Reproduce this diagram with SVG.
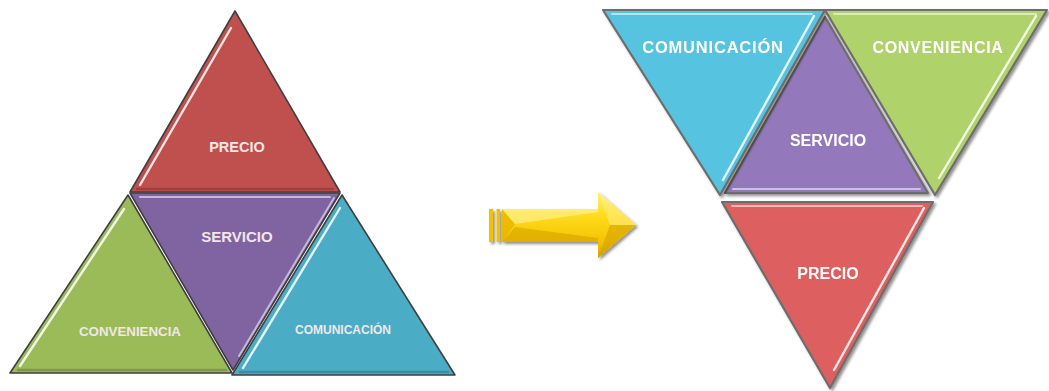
<svg xmlns="http://www.w3.org/2000/svg" width="1049" height="391" viewBox="0 0 1049 391">
  <defs>
    <linearGradient id="arrowFill" x1="0" y1="0" x2="0" y2="1">
      <stop offset="0" stop-color="#fff27a"/>
      <stop offset="0.35" stop-color="#ffdc1e"/>
      <stop offset="0.75" stop-color="#f5c400"/>
      <stop offset="1" stop-color="#d9a300"/>
    </linearGradient>
    <linearGradient id="headFill" x1="0" y1="0" x2="1" y2="1">
      <stop offset="0" stop-color="#ffe95a"/>
      <stop offset="0.6" stop-color="#ffd21a"/>
      <stop offset="1" stop-color="#e0aa00"/>
    </linearGradient>
    <filter id="soft" x="-10%" y="-10%" width="120%" height="120%">
      <feGaussianBlur stdDeviation="0.6"/>
    </filter>
    <filter id="drop" x="-10%" y="-10%" width="125%" height="125%">
      <feGaussianBlur in="SourceAlpha" stdDeviation="1.5"/>
      <feOffset dx="1.5" dy="1.5" result="b"/>
      <feComponentTransfer><feFuncA type="linear" slope="0.45"/></feComponentTransfer>
      <feMerge><feMergeNode/><feMergeNode in="SourceGraphic"/></feMerge>
    </filter>
  </defs>
  <style>
    .tri { stroke: #3f3f3f; stroke-width: 1.6; stroke-linejoin: round; }
    .triR { stroke: #6d6d6d; stroke-width: 2.2; stroke-linejoin: round; }
    .hi { fill: none; stroke: #ffffff; stroke-width: 2.4; stroke-linecap: round; opacity: 0.85; }
    .hiSoft { fill: none; stroke: #ffffff; stroke-width: 2; stroke-linecap: round; opacity: 0.55; }
    .sh { fill: none; stroke: #000000; stroke-width: 2.5; stroke-linecap: round; opacity: 0.18; }
    .lblL { font-family: "Liberation Sans", Arial, sans-serif; font-weight: bold; fill: #f3e6e6; text-anchor: middle; }
    .lblR { font-family: "Liberation Sans", Arial, sans-serif; font-weight: bold; fill: #ffffff; text-anchor: middle; }
  </style>

  <!-- Left pyramid -->
  <g id="left-precio">
    <polygon class="tri" points="235,11 130,192 340,192" fill="#c0504d"/>
    <line class="hi" x1="140" y1="185" x2="231" y2="28"/>
    <line class="sh" x1="137" y1="189" x2="333" y2="189"/>
    <text class="lblL" x="237" y="152" font-size="14.5">PRECIO</text>
  </g>

  <g id="left-servicio">
    <polygon class="tri" points="130,193 340,193 233,370" fill="#8064a2"/>
    <line class="hiSoft" x1="334" y1="198" x2="239" y2="356"/>
    <line class="hiSoft" x1="140" y1="197" x2="330" y2="197"/>
    <text class="lblL" x="237" y="242" font-size="15">SERVICIO</text>
  </g>

  <g id="left-conveniencia">
    <polygon class="tri" points="128,195 10,373 232,373" fill="#9bbb59"/>
    <line class="hi" x1="20" y1="366" x2="124" y2="209"/>
    <line class="sh" x1="18" y1="370" x2="226" y2="370"/>
    <text class="lblL" x="130" y="336" font-size="13.3">CONVENIENCIA</text>
  </g>

  <g id="left-comunicacion">
    <polygon class="tri" points="342,195 232,375 455,375" fill="#4bacc6"/>
    <line class="hi" x1="243" y1="368" x2="340" y2="208"/>
    <line class="sh" x1="240" y1="372" x2="448" y2="372"/>
    <text class="lblL" x="343" y="334" font-size="12">COMUNICACIÓN</text>
  </g>

  <!-- Connector: transformation arrow -->
  <g id="connectors">
    <g id="arrow" filter="url(#drop)">
      <rect x="489" y="209" width="4" height="33" fill="#f2c200"/>
      <rect x="496.5" y="209" width="3.5" height="33" fill="#f2c200"/>
      <polygon points="502,209 598,209 598,192 636,225 598,258 598,242 502,242" fill="url(#arrowFill)"/>
      <!-- bevel facets -->
      <polygon points="502,209 515,224 502,242" fill="#e8b400" opacity="0.8"/>
      <polygon points="502,209 598,209 598,212 515,224" fill="#fff6a8" opacity="0.55"/>
      <polygon points="502,242 515,227 598,238 598,242" fill="#c99600" opacity="0.45"/>
      <polygon points="598,192 636,225 610,225" fill="#fff08a" opacity="0.5"/>
      <polygon points="598,258 636,225 610,225" fill="#d29f00" opacity="0.55"/>
    </g>
  </g>

  <!-- Right inverted pyramid -->
  <g id="right-servicio" filter="url(#drop)">
    <polygon class="triR" points="825,17 725,193 928,193" fill="#9378bb"/>
    <line class="hiSoft" x1="733" y1="189" x2="920" y2="189"/>
    <text class="lblR" x="828" y="146" font-size="16">SERVICIO</text>
  </g>

  <g id="right-comunicacion" filter="url(#drop)">
    <polygon class="triR" points="603,10 825,10 720,195" fill="#57c3e0"/>
    <line class="hi" x1="814" y1="16" x2="723" y2="180"/>
    <line class="hiSoft" x1="612" y1="14" x2="812" y2="14"/>
    <text class="lblR" x="713" y="53" font-size="16.5" letter-spacing="0.8">COMUNICACIÓN</text>
  </g>

  <g id="right-conveniencia" filter="url(#drop)">
    <polygon class="triR" points="825,10 1047,10 935,195" fill="#afd26b"/>
    <line class="hi" x1="1036" y1="16" x2="939" y2="178"/>
    <line class="hiSoft" x1="834" y1="14" x2="1036" y2="14"/>
    <text class="lblR" x="938" y="53" font-size="16" letter-spacing="0.7">CONVENIENCIA</text>
  </g>

  <g id="right-precio" filter="url(#drop)">
    <polygon class="triR" points="722,202 933,202 830,388" fill="#dd5f5e"/>
    <line class="hi" x1="924" y1="208" x2="834" y2="370"/>
    <line class="hiSoft" x1="732" y1="206" x2="922" y2="206"/>
    <text class="lblR" x="828" y="279" font-size="16">PRECIO</text>
  </g>
</svg>
